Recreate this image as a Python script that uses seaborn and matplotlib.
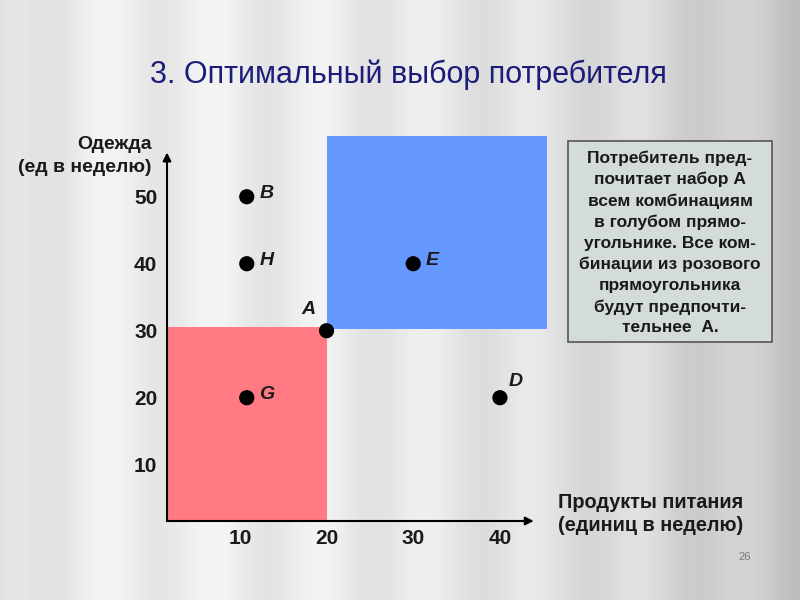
import numpy as np
import pandas as pd
import seaborn as sns
import matplotlib.pyplot as plt
from matplotlib.patches import Rectangle

# bundles (food, clothing) and their labels
labels = ['B', 'H', 'G', 'A', 'E', 'D']
food = [10.8, 10.8, 10.8, 20, 30, 40]
clothing = [50, 40, 20, 30, 40, 20]
x_ticks = [10, 20, 30, 40]
y_ticks = [10, 20, 30, 40, 50]
pink_box = (1.6, 1.6, 20, 30.6)    # x0, y0, x1, y1
blue_box = (20, 30.3, 45.4, 59.0)

title = '3. Оптимальный выбор потребителя'
note = ('Потребитель пред-\nпочитает набор А\nвсем комбинациям\nв голубом прямо-\n'
        'угольнике. Все ком-\nбинации из розового\nпрямоугольника\nбудут предпочти-\nтельнее  А.')

sns.set_style('white')
plt.rcParams['font.family'] = ['Liberation Sans', 'DejaVu Sans']

fig = plt.figure(figsize=(8, 6), dpi=100)

# curtain-like background
bg = fig.add_axes([0, 0, 1, 1], zorder=-10)
xs = np.linspace(0, 1, 800)
prof = 0.93 - 0.16 * xs ** 3 + 0.03 * np.cos(2 * np.pi * xs * 7.5) - 0.08 * np.exp(-xs * 25)
img = np.tile(prof, (600, 1))
bg.imshow(img, cmap='gray', vmin=0, vmax=1, aspect='auto')
bg.axis('off')

W, H = 800, 600
x0, x1 = 1.6, 47.0
y0, y1 = 1.6, 60.0
px_x, px_y = 8.67, 6.7
left = 167 / W
bottom = (H - 521) / H
ax = fig.add_axes([left, bottom, (x1 - x0) * px_x / W, (y1 - y0) * px_y / H])
ax.set_facecolor('none')
ax.set_xlim(x0, x1)
ax.set_ylim(y0, y1)
for s in ax.spines.values():
    s.set_visible(False)

ax.add_patch(Rectangle((pink_box[0], pink_box[1]), pink_box[2] - pink_box[0],
                       pink_box[3] - pink_box[1], color='#ff7a82', lw=0, zorder=1))
ax.add_patch(Rectangle((blue_box[0], blue_box[1]), blue_box[2] - blue_box[0],
                       blue_box[3] - blue_box[1], color='#6699ff', lw=0, zorder=1))

# axes with arrows
arrow = dict(arrowstyle='-|>', color='black', lw=1.5, mutation_scale=12,
             shrinkA=0, shrinkB=0)
ax.annotate('', xy=(x0, 56.6), xytext=(x0, y0), arrowprops=arrow, zorder=3)
ax.annotate('', xy=(43.9, y0), xytext=(x0, y0), arrowprops=arrow, zorder=3)

df = pd.DataFrame({'food': food, 'clothing': clothing, 'label': labels})
sns.scatterplot(data=df, x='food', y='clothing', color='black', s=120,
                edgecolor='none', ax=ax, zorder=4, legend=False)

offsets = {'B': (9, 2), 'H': (9, 2), 'G': (9, 2), 'A': (-18, 15), 'E': (9, 2), 'D': (6, 12)}
for lab, fx, cy in zip(labels, food, clothing):
    dx, dy = offsets[lab]
    ax.annotate(lab, (fx, cy), xytext=(dx, dy), textcoords='offset points',
                fontsize=14, fontweight='bold', fontstyle='italic', color='#1a1a1a',
                ha='left', va='center')

ax.set_xticks(x_ticks)
ax.set_yticks(y_ticks)
ax.tick_params(length=0, labelsize=15, pad=6)
ax.tick_params(axis='y', pad=7)
for t in ax.get_xticklabels() + ax.get_yticklabels():
    t.set_fontweight('bold')
    t.set_color('#1a1a1a')
ax.set_xlabel('')
ax.set_ylabel('')

fig.text(152 / W, 1 - 156 / H, 'Одежда\n(ед в неделю)', ha='right', va='center',
         fontsize=14, fontweight='bold', color='#1a1a1a', linespacing=1.5,
         multialignment='right')
fig.text(558 / W, 1 - 514 / H, 'Продукты питания\n(единиц в неделю)', ha='left',
         va='center', fontsize=14.3, fontweight='bold', color='#1a1a1a', linespacing=1.25)

fig.text(408 / W, 1 - 75 / H, title, ha='center', va='center', fontsize=22,
         color='#1c1c7a')

# note box
fig.patches.append(Rectangle((568 / W, 1 - 342 / H), 204 / W, 201 / H,
                             transform=fig.transFigure, facecolor='#d3dcdb',
                             edgecolor='#555555', lw=1.2, zorder=2))
fig.text(670 / W, 1 - 243 / H, note, ha='center', va='center', fontsize=12.5,
         fontweight='bold', color='#1a1a1a', linespacing=1.48, zorder=3)

fig.text(745 / W, 1 - 557 / H, '26', ha='center', va='center', fontsize=8,
         color='#777777')

fig.savefig('out.png', dpi=100)
